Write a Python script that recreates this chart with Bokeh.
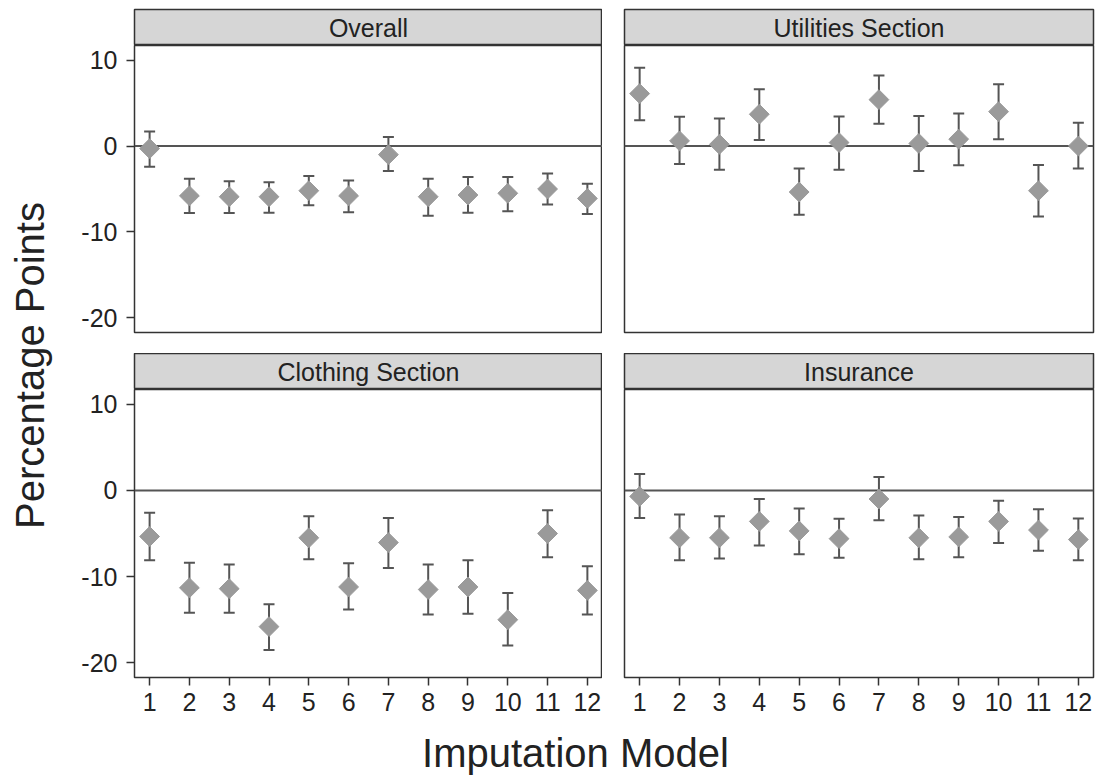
import math
from bokeh.plotting import figure
from bokeh.models import Range1d, Whisker, TeeHead, ColumnDataSource, Span, Label
from bokeh.layouts import row, column
from bokeh.embed import file_html
from bokeh.resources import INLINE

# ---------------- data ----------------
models = list(range(1, 13))
x_tick_labels = [str(m) for m in models]
y_ticks = [-20, -10, 0, 10]
y_tick_labels = ["-20", "-10", "0", "10"]

panel_titles = ["Overall", "Utilities Section", "Clothing Section", "Insurance"]

overall_est = [-0.3, -5.8, -5.9, -5.9, -5.2, -5.8, -1.0, -5.9, -5.7, -5.5, -5.0, -6.1]
overall_lo = [-2.4, -7.8, -7.8, -7.75, -6.9, -7.7, -2.9, -8.1, -7.75, -7.6, -6.8, -7.9]
overall_hi = [1.7, -3.8, -4.1, -4.2, -3.5, -4.0, 1.05, -3.8, -3.6, -3.6, -3.2, -4.4]

utilities_est = [6.1, 0.6, 0.2, 3.7, -5.35, 0.4, 5.4, 0.3, 0.8, 4.0, -5.2, 0.0]
utilities_lo = [3.0, -2.1, -2.75, 0.7, -8.0, -2.75, 2.6, -2.9, -2.25, 0.8, -8.2, -2.6]
utilities_hi = [9.1, 3.4, 3.2, 6.6, -2.6, 3.45, 8.2, 3.5, 3.8, 7.2, -2.2, 2.7]

clothing_est = [-5.35, -11.3, -11.4, -15.8, -5.5, -11.2, -6.05, -11.5, -11.2, -15.0, -5.0, -11.6]
clothing_lo = [-8.1, -14.2, -14.2, -18.5, -8.0, -13.8, -9.0, -14.4, -14.3, -18.0, -7.75, -14.4]
clothing_hi = [-2.6, -8.4, -8.6, -13.2, -3.0, -8.45, -3.2, -8.6, -8.1, -11.9, -2.3, -8.8]

insurance_est = [-0.7, -5.5, -5.5, -3.6, -4.7, -5.6, -1.0, -5.5, -5.4, -3.6, -4.6, -5.7]
insurance_lo = [-3.2, -8.1, -7.9, -6.4, -7.4, -7.8, -3.45, -8.0, -7.75, -6.1, -7.0, -8.1]
insurance_hi = [1.9, -2.8, -3.0, -1.0, -2.1, -3.3, 1.55, -2.9, -3.1, -1.2, -2.2, -3.25]

# ---------------- style ----------------
FONT = "Liberation Sans"
TEXT = "#222222"
POINT = "#9a9a9a"
BAR = "#555555"
EDGE = "#333333"
STRIP = "#d6d6d6"

YT_W = 56          # y-title column width
BL_LEFT = 78       # left border of left panels
GAP = 22           # border between panels
FW_L = 468
FW_R = 469
BR_RIGHT = 3
STRIP_H = 36
TOP_PAD = 9


def strip(label, bl, br, fw, bt):
    s = figure(width=bl + fw + br, height=STRIP_H + bt, frame_width=fw, frame_height=STRIP_H,
               min_border=0, min_border_left=bl, min_border_right=br, min_border_top=bt,
               min_border_bottom=0, x_range=Range1d(0, 1), y_range=Range1d(0, 1),
               x_axis_location=None, y_axis_location=None, toolbar_location=None,
               output_backend="svg")
    s.grid.visible = False
    s.background_fill_color = STRIP
    s.border_fill_color = "white"
    s.outline_line_color = EDGE
    s.outline_line_width = 1.5
    s.add_layout(Label(x=0.5, y=0.5, text=label, text_align="center", text_baseline="middle",
                       text_font=FONT, text_font_size="25px", text_color=TEXT))
    return s


def panel(est, lo, hi, bl, br, fw, fh, bb, show_x, show_y):
    p = figure(width=bl + fw + br, height=fh + bb, frame_width=fw, frame_height=fh,
               min_border=0, min_border_left=bl, min_border_right=br, min_border_top=0,
               min_border_bottom=bb, x_range=Range1d(0.62, 12.38), y_range=Range1d(-21.7, 11.7),
               x_axis_location="below" if show_x else None,
               y_axis_location="left" if show_y else None,
               toolbar_location=None, output_backend="svg")
    p.background_fill_color = "white"
    p.border_fill_color = "white"
    p.outline_line_color = EDGE
    p.outline_line_width = 1.5
    p.grid.visible = False
    for ax in p.axis:
        ax.axis_line_color = None
        ax.major_tick_line_color = EDGE
        ax.major_tick_line_width = 1.5
        ax.minor_tick_line_color = None
        ax.major_tick_in = 0
        ax.major_tick_out = 8
        ax.major_label_text_font = FONT
        ax.major_label_text_font_size = "25px"
        ax.major_label_text_color = TEXT
    if show_x:
        p.xaxis.ticker = models
        p.xaxis.major_label_overrides = {m: t for m, t in zip(models, x_tick_labels)}
        p.xaxis.major_label_standoff = 7
    if show_y:
        p.yaxis.ticker = y_ticks
        p.yaxis.major_label_overrides = {v: t for v, t in zip(y_ticks, y_tick_labels)}
        p.yaxis.major_label_standoff = 9

    zero = Span(location=0, dimension="width", line_color=BAR, line_width=2, level="underlay")
    p.add_layout(zero)

    src = ColumnDataSource(dict(x=models, y=est, lower=lo, upper=hi))
    w = Whisker(source=src, base="x", upper="upper", lower="lower", line_color=BAR, line_width=2,
                upper_head=TeeHead(size=11, line_color=BAR, line_width=2),
                lower_head=TeeHead(size=11, line_color=BAR, line_width=2), level="underlay")
    p.add_layout(w)
    p.scatter("x", "y", source=src, marker="square", angle=math.pi / 4, size=14,
              fill_color=POINT, line_color=POINT)
    return p


# top row
s_tl = strip(panel_titles[0], BL_LEFT, 0, FW_L, TOP_PAD)
s_tr = strip(panel_titles[1], GAP, BR_RIGHT, FW_R, TOP_PAD)
p_tl = panel(overall_est, overall_lo, overall_hi, BL_LEFT, 0, FW_L, 287, 21, False, True)
p_tr = panel(utilities_est, utilities_lo, utilities_hi, GAP, BR_RIGHT, FW_R, 287, 21, False, False)
# bottom row
s_bl = strip(panel_titles[2], BL_LEFT, 0, FW_L, 0)
s_br = strip(panel_titles[3], GAP, BR_RIGHT, FW_R, 0)
p_bl = panel(clothing_est, clothing_lo, clothing_hi, BL_LEFT, 0, FW_L, 288, 47, True, True)
p_br = panel(insurance_est, insurance_lo, insurance_hi, GAP, BR_RIGHT, FW_R, 288, 47, True, False)

main_w = BL_LEFT + FW_L + GAP + FW_R + BR_RIGHT
XT_H = 52
xt = figure(width=main_w, height=XT_H, min_border=0, x_range=Range1d(0, main_w),
            y_range=Range1d(0, XT_H), x_axis_location=None, y_axis_location=None,
            toolbar_location=None, output_backend="svg")
xt.grid.visible = False
xt.outline_line_color = None
xt.add_layout(Label(x=575 - YT_W, y=24, text="Imputation Model", text_align="center",
                    text_baseline="middle", text_font=FONT, text_font_size="40px",
                    text_color=TEXT))

total_h = (STRIP_H + TOP_PAD) + (287 + 21) + STRIP_H + (288 + 47) + XT_H
yt = figure(width=YT_W, height=total_h, min_border=0, x_range=Range1d(0, YT_W),
            y_range=Range1d(0, total_h), x_axis_location=None, y_axis_location=None,
            toolbar_location=None, output_backend="svg")
yt.grid.visible = False
yt.outline_line_color = None
yt.add_layout(Label(x=29, y=total_h - 365, text="Percentage Points", angle=math.pi / 2,
                    text_align="center", text_baseline="middle", text_font=FONT,
                    text_font_size="40px", text_color=TEXT))

layout = row(yt, column(row(s_tl, s_tr), row(p_tl, p_tr), row(s_bl, s_br), row(p_bl, p_br), xt))

open("out.html", "w").write(file_html(layout, INLINE))
